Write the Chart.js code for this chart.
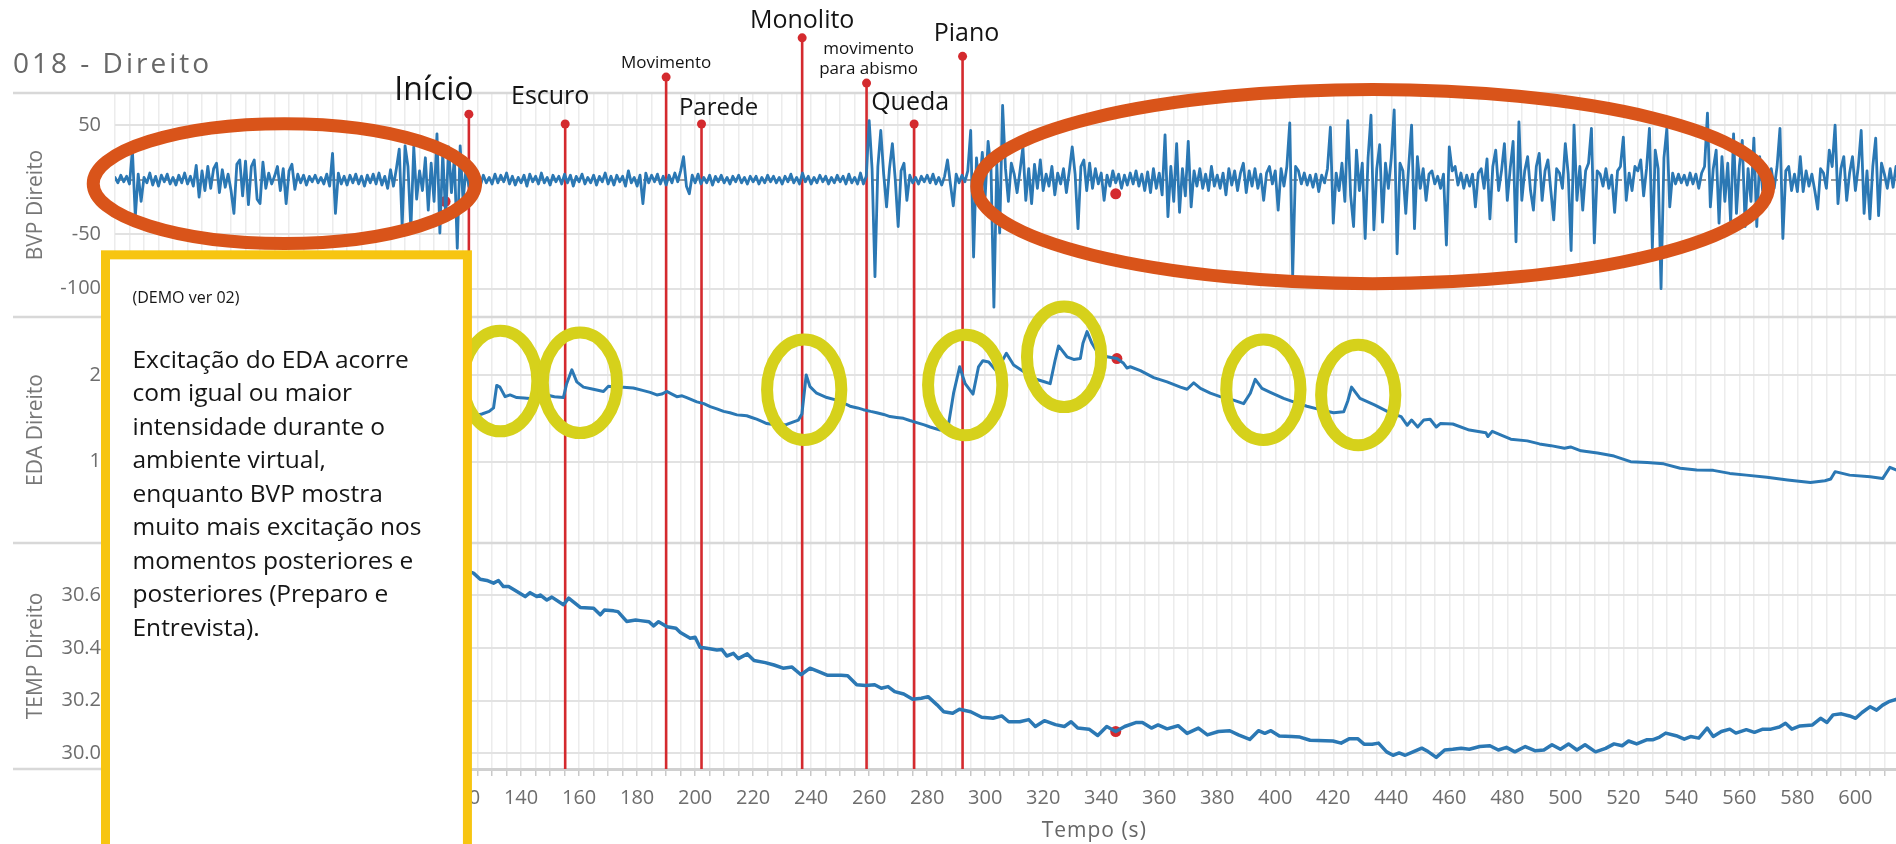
<!DOCTYPE html>
<html><head><meta charset="utf-8">
<script src="https://cdn.jsdelivr.net/npm/chart.js@4.4.1/dist/chart.umd.min.js"></script>
<style>html,body{margin:0;padding:0;background:#fff;overflow:hidden}canvas{display:block}</style>
</head><body>
<canvas id="c" width="1896" height="844"></canvas>
<script>
// ---------------- DATA ----------------
const chartTitle = '018 - Direito';
const xTitle = 'Tempo (s)';
const xTickLabels = [0,20,40,60,80,100,120,140,160,180,200,220,240,260,280,300,320,340,360,380,400,420,440,460,480,500,520,540,560,580,600];
const bvpTicks = [-100, -50, 0, 50];
const edaTicks = [1, 2];
const tempTicks = [30.0, 30.2, 30.4, 30.6];

// BVP: one sample per second, starting at t = 0 s
const bvpValues = [
 2,-3,4,-2,3,-4,27,-34,5,-20,
 2,-3,6,-5,3,-6,4,-2,5,-4,
 2,-5,4,-3,6,-4,3,-6,13,-16,
 8,-10,12,-8,10,15,-12,9,-7,5,
 -10,-31,14,18,-15,17,-23,12,18,-18,
 -22,16,-8,6,-4,3,12,-10,10,-22,
 8,14,-9,5,-3,4,-5,3,-2,4,
 -3,2,-4,5,-6,24,-31,6,-4,3,
 -5,4,-3,5,-4,3,-6,4,-3,5,
 -4,6,-5,3,-8,9,-6,10,28,-43,
 31,12,-46,30,-18,8,-10,20,-28,15,
 -20,42,-49,25,-35,30,-12,20,-63,31,
 -20,10,-6,5,-4,3,-5,4,-3,2,
 -4,5,-3,4,-2,6,-4,3,-5,2,
 -3,4,-6,5,-2,3,-4,6,-3,2,
 -5,4,-2,3,-4,5,-3,4,-6,3,
 -2,5,-4,2,-3,4,-5,3,-2,6,
 -4,3,-5,4,-2,3,-6,8,-3,2,
 -6,4,-22,6,-3,4,-2,5,-4,3,
 -5,4,-3,6,-2,8,21,-6,-13,4,
 -3,5,-4,2,-3,4,-5,3,-2,4,
 -3,2,-4,3,-2,4,-3,2,-4,3,
 -2,3,-4,2,-3,4,-2,3,-3,2,
 -4,3,-2,5,-3,2,-4,6,-2,3,
 -4,2,-3,4,-2,3,-4,2,-3,4,
 -2,3,-4,5,-3,2,-4,6,-4,3,
 54,10,-89,12,45,5,-25,10,33,0,
 -43,8,15,-19,4,-3,2,-4,3,-2,
 4,-3,5,-4,2,-5,3,18,-4,-24,
 5,-3,4,-2,8,45,-71,20,-10,25,
 -15,35,10,-117,15,-49,68,10,-20,15,
 5,-12,8,30,-19,10,-22,14,-8,18,
 -10,5,-6,12,-14,6,-4,10,-12,8,
 30,5,-45,12,18,-10,15,-8,10,-4,
 6,-19,4,-6,8,-3,5,-8,4,-5,
 6,-4,8,-6,5,-10,7,-12,10,-8,
 6,-14,41,-34,12,-20,33,-30,10,-15,
 35,-25,8,-6,10,-8,5,-10,12,-6,
 4,-8,6,-14,10,-5,8,-10,6,15,
 -12,8,-6,10,-8,5,-19,6,12,-4,
 8,-28,10,-6,12,52,-89,12,8,-4,
 6,-5,4,-7,5,-11,4,-3,10,48,
 -40,6,-10,15,-20,54,-15,-43,27,-10,
 15,-54,20,59,-46,10,32,-39,15,-8,
 20,64,-68,15,8,-31,12,50,-45,21,
 -8,10,-19,5,8,-4,3,-8,5,-60,
 30,8,12,-5,6,-8,4,-6,5,-25,
 6,10,-8,19,-36,12,27,-10,8,33,
 -19,10,35,-57,53,-19,8,21,-10,-28,
 12,24,-19,8,18,-10,-37,10,6,-8,
 33,5,-65,50,-19,12,-28,8,15,47,
 -58,8,5,-6,10,-8,4,-30,8,12,
 39,-19,6,-10,12,8,18,-15,10,47,
 -63,27,10,-100,20,47,-25,6,-4,5,
 -3,4,-5,6,-4,5,-8,6,12,61,
 -25,10,27,-40,21,-20,15,-40,42,-31,
 12,36,-43,10,-20,38,-43,21,-10,8,
 -6,10,-8,12,47,-54,8,12,-10,5,
 -11,21,-11,8,-6,5,-10,-27,10,6,
 -8,27,12,50,-22,10,21,-19,6,21,
 -10,12,45,-31,8,-36,12,38,-33,15,
 5,-8,10,-7,12
];
const bvpStart = 0, bvpStep = 1;

const edaTime = [121,124,126.5,129,130.5,131.6,132.7,134.5,136.2,138.5,
 141,143,146,148.8,151.5,154.6,155.7,157.5,159.2,161.5,
 164.9,168.4,170.1,172.5,175.3,178.7,182.2,184.5,186.8,188.5,
 190.2,192,193.7,195.5,197.1,200.6,203,205.2,207.5,209.8,
 212,214.4,216,217.8,219.5,221.2,223,224.7,227,229.3,
 231.6,233.9,235.6,236.8,238.3,239.6,241.9,245.4,248.8,251,
 253.4,256,258,260.5,262.6,265,267.2,269.5,271.8,274,
 276.4,279,281,283,284.5,287.4,289.1,291.2,293.1,295.8,
 297.7,299.2,301.2,303.5,305.2,307.3,309.8,313.2,316.7,320.1,
 322.4,324.1,325.3,328.2,330.5,332.8,333.7,335.1,336.8,338.5,
 342,345.4,347.7,348.9,350,353.5,358.1,362.7,367.3,369.6,
 371.9,374.2,377.6,381,385.6,389.1,391.4,393.1,395.4,398.3,
 402.9,406.3,410.9,415.5,420.1,423.6,425,426.3,429.2,434.2,
 439.8,443.4,445.5,447,449.1,451.2,453.4,455.5,456.9,461.2,
 466.9,472.6,473.3,474.8,481.2,486.9,491.1,495,499.7,501.8,
 505.4,511.1,516.8,522.5,528.2,533.9,539.6,545.3,551,556.7,
 562.4,569.5,576.6,584.5,589.5,591.5,593,598,605.1,609.4,
 611.9,614];
const edaValue = [1.52,1.53,1.55,1.58,1.62,1.88,1.86,1.75,1.77,1.74,
 1.735,1.73,1.75,1.77,1.75,1.74,1.90,2.06,1.92,1.86,
 1.835,1.81,1.87,1.86,1.86,1.85,1.82,1.80,1.77,1.78,
 1.81,1.78,1.75,1.76,1.74,1.69,1.67,1.635,1.61,1.58,
 1.565,1.54,1.535,1.53,1.51,1.49,1.465,1.44,1.43,1.42,
 1.43,1.46,1.48,1.55,2.0,1.865,1.79,1.74,1.71,1.68,
 1.64,1.62,1.6,1.58,1.565,1.545,1.52,1.51,1.50,1.475,
 1.45,1.425,1.40,1.38,1.365,1.44,1.79,2.095,1.90,1.78,
 2.095,2.165,2.15,2.06,2.12,2.25,2.115,2.04,1.96,1.925,
 1.90,2.17,2.335,2.21,2.18,2.19,2.365,2.50,2.365,2.27,
 2.21,2.19,2.135,2.08,2.095,2.05,1.97,1.92,1.86,1.835,
 1.91,1.845,1.79,1.75,1.71,1.67,1.79,1.95,1.845,1.80,
 1.73,1.69,1.64,1.60,1.565,1.575,1.70,1.86,1.73,1.655,
 1.56,1.52,1.42,1.48,1.40,1.48,1.49,1.40,1.44,1.435,
 1.365,1.335,1.29,1.35,1.26,1.24,1.205,1.185,1.155,1.17,
 1.125,1.10,1.065,1.0,0.99,0.975,0.925,0.905,0.90,0.865,
 0.845,0.82,0.79,0.76,0.78,0.80,0.885,0.845,0.825,0.805,
 0.935,0.905];

const tempTime = [121.5,123.6,125.9,128.2,130.5,132.2,133.9,135.7,138,141.4,
 143.1,145.4,146.6,148.9,150.6,154.6,156.4,160.4,165,167.3,
 168.7,171.9,173.4,176.4,179.5,181.1,184.1,185.7,187.4,190.3,
 193.4,194.9,198.3,200,201.7,204,207.5,209.2,210.9,213.2,
 214.9,218,220.3,224.2,227.2,230.3,233.4,236.5,239.6,242.6,
 245.7,250.3,252.6,255.7,258.8,261.9,264.2,266.5,268.8,271.9,
 275,278,280.3,283.4,285.7,288.8,291.1,295,298.8,302.7,
 305.7,308.1,311.9,315,317.3,320.4,324.2,327.3,329.6,331.9,
 335.8,338.8,341.9,345,348.1,351.9,354.2,357.3,359.6,362.7,
 366.5,369.6,373.5,376.6,380.4,384.3,387.3,391.2,394.2,396.4,
 398.5,401.4,405.6,408.5,412,419.9,422.7,425.6,428.4,430.6,
 433.4,435.6,438.4,440.6,442.7,444.8,447.7,450.5,452.7,455.5,
 458.4,461.2,464.1,466.9,470.5,474,476.9,479.7,482.6,486.2,
 489.7,492.6,495.4,498.3,501.1,504,506.8,510.4,513.9,516.8,
 519.6,521.8,524.6,528.2,530.3,532.5,534.6,538.2,541,543.2,
 546,548.9,551,553.8,556.7,558.8,562.4,565.2,568.1,570.9,
 573.8,575.9,578.1,580.9,585.2,588,590.2,592.3,595.2,598,
 600.1,602.3,605.1,607.3,609.4,611.5,614];
const tempValue = [30.69,30.683,30.66,30.655,30.645,30.655,30.632,30.632,30.617,30.594,
 30.609,30.594,30.60,30.581,30.592,30.563,30.588,30.553,30.55,30.525,
 30.543,30.54,30.537,30.50,30.505,30.503,30.499,30.483,30.499,30.48,
 30.474,30.458,30.436,30.44,30.402,30.398,30.392,30.394,30.369,30.379,
 30.359,30.377,30.352,30.344,30.335,30.323,30.327,30.298,30.323,30.31,
 30.296,30.296,30.294,30.26,30.257,30.26,30.247,30.253,30.234,30.225,
 30.205,30.209,30.215,30.184,30.158,30.152,30.167,30.158,30.137,30.133,
 30.142,30.12,30.12,30.128,30.102,30.124,30.109,30.102,30.12,30.096,
 30.092,30.068,30.102,30.083,30.102,30.117,30.117,30.096,30.108,30.093,
 30.105,30.076,30.096,30.07,30.083,30.086,30.07,30.053,30.086,30.076,
 30.086,30.066,30.064,30.062,30.05,30.047,30.039,30.056,30.056,30.035,
 30.035,30.039,30.006,29.993,30.002,29.993,30.007,30.02,30.007,29.985,
 30.013,30.016,30.02,30.016,30.026,30.029,30.013,30.023,30.006,30.026,
 30.01,30.013,30.033,30.016,30.036,30.013,30.033,30.006,30.019,30.036,
 30.029,30.047,30.036,30.052,30.052,30.062,30.077,30.067,30.054,30.064,
 30.058,30.096,30.064,30.083,30.092,30.077,30.09,30.08,30.092,30.092,
 30.1,30.114,30.092,30.104,30.108,30.133,30.117,30.146,30.15,30.142,
 30.133,30.155,30.177,30.164,30.183,30.196,30.205];

// cursor markers (time, value)
const bvpCursorTime = [113.8, 345];
const bvpCursorValue = [-20, -13];
const edaCursorTime = [345.4];
const edaCursorValue = [2.19];
const tempCursorTime = [345];
const tempCursorValue = [30.083];

// event markers
const eventTimes = [122, 155.2, 190, 202.2, 236.9, 259.1, 275.5, 292.2];
const eventLabels = ['Início', 'Escuro', 'Movimento', 'Parede', 'Monolito', ['movimento', 'para abismo'], 'Queda', 'Piano'];

// annotation texts
const demoTag = '(DEMO ver 02)';
const noteLines = ['Excitação do EDA acorre', 'com igual ou maior', 'intensidade durante o', 'ambiente virtual,', 'enquanto BVP mostra', 'muito mais excitação nos', 'momentos posteriores e', 'posteriores (Preparo e', 'Entrevista).'];

// ---------------- LAYOUT / STYLE ----------------
const FONT = '"Open Sans", "Noto Sans", sans-serif';
const BLUE = '#2b78b4';
const RED = '#d42a2e';
const ORANGE = '#d9541a';
const YCIRCLE = '#d6d11b';
const YBOX = '#f7c511';
const TICK = '#6d6d6d';

// event marker layout: dot level on BVP axis, label offsets (px), font size
const eventLayout = [
  {dot: 60, dx: -35, dy: -14, size: 32},
  {dot: 51, dx: -15, dy: -20, size: 25},
  {dot: 94, dx: 0, dy: -9, size: 17},
  {dot: 51, dx: 17, dy: -9, size: 24},
  {dot: 130, dx: 0, dy: -10, size: 25},
  {dot: 88.5, dx: 2, dy: -9, size: 17, lh: 20},
  {dot: 51, dx: -4, dy: -14, size: 25},
  {dot: 113, dx: 4, dy: -15, size: 25}
];
// hand-drawn highlight ellipses (data coords on BVP / EDA axes)
const orangeEllipses = [
  {t: 58.4, v: -3.7, rt: 65.9, rv: 55},
  {t: 433.6, v: -6.4, rt: 136.5, rv: 89}
];
const yellowCircles = [
  {t: 132.8, v: 1.93}, {t: 160.3, v: 1.91}, {t: 237.6, v: 1.83}, {t: 293.1, v: 1.885},
  {t: 327.2, v: 2.21}, {t: 395.9, v: 1.83}, {t: 428.6, v: 1.77}
];
const circleR = {rt: 12.8, rv: 0.58};

// ---------------- BUILD ----------------
const pts = (ts, vs) => ts.map((t, i) => ({x: t, y: vs[i]}));
const bvpPoints = bvpValues.map((v, i) => ({x: bvpStart + i * bvpStep, y: v}));

const fitY = s => { s.width = 115; s.paddingTop = 0; s.paddingBottom = 0; s.paddingLeft = 0; s.paddingRight = 0; };
const setTicks = arr => s => { s.ticks = arr.map(v => ({value: v})); };

const xGrid = [];
for (let t = 0; t <= 610; t += 5) xGrid.push(t);

const yCommon = (title) => ({
  type: 'linear', position: 'left', stack: 'panels',
  grid: {color: c => (c.tick && c.tick.value === 0 && c.scale.id === 'yB') ? '#9a9a9a' : '#e2e2e2', lineWidth: 2, drawTicks: false},
  border: {display: false, dash: c => (c.tick && c.tick.value === 0 && c.scale.id === 'yB') ? [7, 5] : []},
  ticks: {color: TICK, font: {family: FONT, size: 20}, padding: 14},
  title: {display: true, text: title, color: '#777', font: {family: FONT, size: 21}, padding: {top: 23, bottom: 0}},
  afterFit: fitY
});

const lineDs = (label, data, axis, w) => ({
  label, data, yAxisID: axis, borderColor: BLUE, borderWidth: w, pointRadius: 0,
  tension: 0, borderJoinStyle: 'round', borderCapStyle: 'round', fill: false, parsing: false
});
const dotDs = (data, axis) => ({
  type: 'scatter', data, yAxisID: axis, pointRadius: 5.5, pointBackgroundColor: RED,
  pointBorderWidth: 0, showLine: false, parsing: false
});

const overlay = {
  id: 'overlay',
  beforeDatasetsDraw(chart) {
    const {ctx, chartArea, scales} = chart;
    const xS = scales.x, yB = scales.yB;
    ctx.save();
    ctx.strokeStyle = '#d8d8d8'; ctx.lineWidth = 2.5;
    [scales.yB.top, scales.yE.top, scales.yT.top, chartArea.bottom].forEach(y => {
      ctx.beginPath(); ctx.moveTo(13, y); ctx.lineTo(y === chartArea.bottom ? chartArea.left : chart.width, y); ctx.stroke();
    });
    ctx.strokeStyle = RED; ctx.lineWidth = 2.6;
    eventTimes.forEach((t, i) => {
      const x = xS.getPixelForValue(t);
      ctx.beginPath();
      ctx.moveTo(x, yB.getPixelForValue(eventLayout[i].dot));
      ctx.lineTo(x, chartArea.bottom);
      ctx.stroke();
    });
    ctx.restore();
  },
  afterDraw(chart) {
    const {ctx, chartArea, scales} = chart;
    const xS = scales.x, yB = scales.yB, yE = scales.yE;
    ctx.save();
    // event dots + labels
    eventTimes.forEach((t, i) => {
      const L = eventLayout[i];
      const x = xS.getPixelForValue(t), y = yB.getPixelForValue(L.dot);
      ctx.fillStyle = RED; ctx.beginPath(); ctx.arc(x, y, 4.5, 0, Math.PI * 2); ctx.fill();
      ctx.fillStyle = '#141414'; ctx.font = `${L.size}px ${FONT}`;
      ctx.textAlign = 'center'; ctx.textBaseline = 'alphabetic';
      const lines = [].concat(eventLabels[i]);
      lines.forEach((s, k) => ctx.fillText(s, x + L.dx, y + L.dy - (lines.length - 1 - k) * (L.lh || 0)));
    });
    // orange ellipses
    ctx.strokeStyle = ORANGE; ctx.lineWidth = 13;
    orangeEllipses.forEach(e => {
      const cx = xS.getPixelForValue(e.t), cy = yB.getPixelForValue(e.v);
      const rx = xS.getPixelForValue(e.t + e.rt) - cx, ry = cy - yB.getPixelForValue(e.v + e.rv);
      ctx.beginPath(); ctx.ellipse(cx, cy, rx, ry, 0, 0, Math.PI * 2); ctx.stroke();
    });
    // yellow circles
    ctx.strokeStyle = YCIRCLE; ctx.lineWidth = 12;
    yellowCircles.forEach(e => {
      const cx = xS.getPixelForValue(e.t), cy = yE.getPixelForValue(e.v);
      const rx = xS.getPixelForValue(e.t + circleR.rt) - cx, ry = cy - yE.getPixelForValue(e.v + circleR.rv);
      ctx.beginPath(); ctx.ellipse(cx, cy, rx, ry, 0, 0, Math.PI * 2); ctx.stroke();
    });
    // note box
    const bx0 = chartArea.left - 9.5, bx1 = xS.getPixelForValue(121.5), by0 = yB.getPixelForValue(-69);
    ctx.fillStyle = '#fff'; ctx.fillRect(bx0, by0, bx1 - bx0, chart.height - by0 + 20);
    ctx.strokeStyle = YBOX; ctx.lineWidth = 9;
    ctx.strokeRect(bx0, by0, bx1 - bx0, chart.height - by0 + 20);
    ctx.fillStyle = '#151515'; ctx.textAlign = 'left'; ctx.textBaseline = 'alphabetic';
    ctx.font = `16px ${FONT}`;
    ctx.fillText(demoTag, bx0 + 27, by0 + 48);
    ctx.font = `24.5px ${FONT}`;
    noteLines.forEach((s, k) => ctx.fillText(s, bx0 + 27, by0 + 113 + k * 33.5));
    // chart title
    ctx.fillStyle = '#676767'; ctx.font = `28px ${FONT}`;
    ctx.letterSpacing = '3px';
    ctx.fillText(chartTitle, 13, 73);
    // x axis title (centred on the original, uncropped axis)
    ctx.letterSpacing = '1px';
    ctx.fillStyle = '#666'; ctx.font = `21px ${FONT}`; ctx.textAlign = 'center';
    ctx.fillText(xTitle, xS.getPixelForValue(337.6), 837);
    ctx.letterSpacing = '0px';
    ctx.restore();
  }
};

new Chart(document.getElementById('c'), {
  type: 'line',
  data: {
    datasets: [
      lineDs('BVP Direito', bvpPoints, 'yB', 2.8),
      lineDs('EDA Direito', pts(edaTime, edaValue), 'yE', 3),
      lineDs('TEMP Direito', pts(tempTime, tempValue), 'yT', 3.5),
      dotDs(pts(bvpCursorTime, bvpCursorValue), 'yB'),
      dotDs(pts(edaCursorTime, edaCursorValue), 'yE'),
      dotDs(pts(tempCursorTime, tempCursorValue), 'yT')
    ]
  },
  options: {
    responsive: false, animation: false, events: [],
    layout: {autoPadding: false, padding: {top: 93, left: 0, right: 0, bottom: 0}},
    plugins: {legend: {display: false}, tooltip: {enabled: false}, title: {display: false}},
    scales: {
      x: {
        type: 'linear', position: 'bottom', min: 0, max: 614,
        afterBuildTicks: setTicks(xGrid),
        afterFit: s => { s.height = 75; s.paddingLeft = 0; s.paddingRight = 0; s.paddingTop = 0; s.paddingBottom = 0; },
        grid: {color: '#ececec', lineWidth: 1.5, tickLength: 7, tickColor: '#c9c9c9', tickWidth: 1.5},
        border: {display: true, color: '#d0d0d0', width: 3},
        ticks: {color: TICK, font: {family: FONT, size: 20}, padding: 10, autoSkip: false, maxRotation: 0, minRotation: 0,
          callback: v => xTickLabels.includes(v) ? String(v) : ''}
      },
      yB: Object.assign(yCommon('BVP Direito'), {min: -126, max: 79.4, stackWeight: 224, weight: 3,
        afterBuildTicks: setTicks(bvpTicks)}),
      yE: Object.assign(yCommon('EDA Direito'), {min: 0.062, max: 2.669, stackWeight: 226, weight: 2,
        afterBuildTicks: setTicks(edaTicks)}),
      yT: Object.assign(yCommon('TEMP Direito'), {min: 29.941, max: 30.797, stackWeight: 226, weight: 1,
        afterBuildTicks: setTicks(tempTicks)})
    }
  },
  plugins: [overlay]
});
</script>
</body></html>
